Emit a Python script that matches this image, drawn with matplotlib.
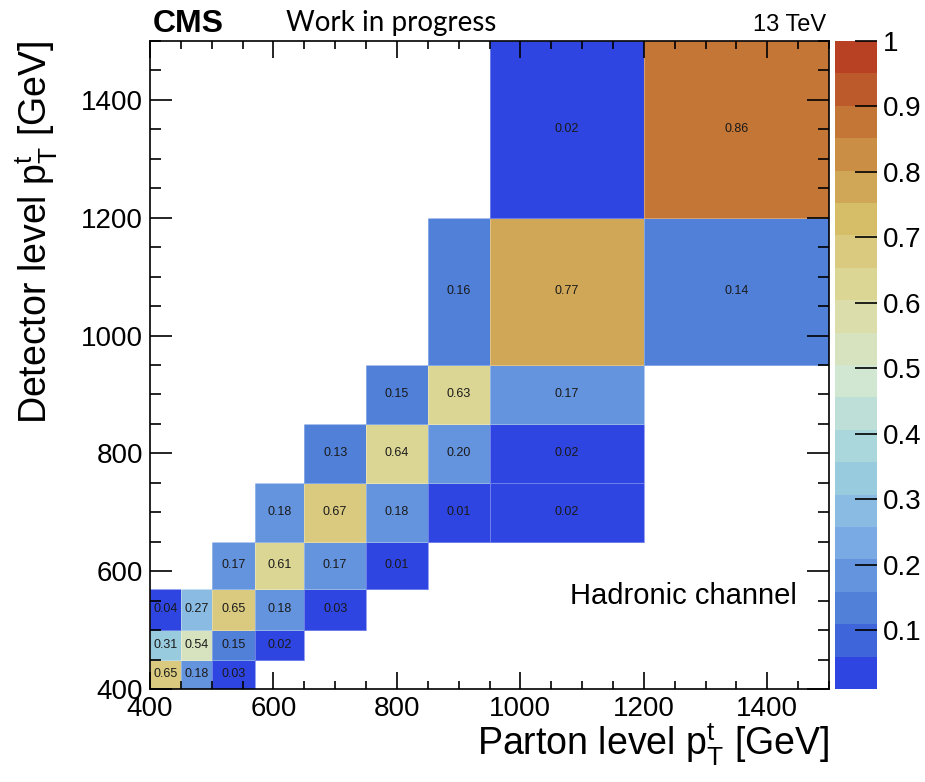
#!/usr/bin/env python3
"""
Migration matrix: parton vs detector level top pT (hadronic channel)
"""

import numpy as np
import matplotlib
matplotlib.use("Agg")
import matplotlib.pyplot as plt
from matplotlib.colors import ListedColormap, BoundaryNorm
from matplotlib.ticker import MultipleLocator

# Bin edges (GeV), same for both axes
pt_edges = [400, 450, 500, 570, 650, 750, 850, 950, 1200, 1500]

# Migration fractions: one row per detector-level bin (bottom -> top),
# one column per parton-level bin (left -> right). None = empty bin
# (a few values carry a third digit)
row_400 = [0.654, 0.18, 0.03, None, None, None, None, None, None]
row_450 = [0.31, 0.54, 0.15, 0.02, None, None, None, None, None]
row_500 = [0.04, 0.27, 0.654, 0.18, 0.03, None, None, None, None]
row_570 = [None, None, 0.17, 0.61, 0.17, 0.01, None, None, None]
row_650 = [None, None, None, 0.18, 0.67, 0.18, 0.01, 0.02, None]
row_750 = [None, None, None, None, 0.13, 0.64, 0.20, 0.02, None]
row_850 = [None, None, None, None, None, 0.15, 0.63, 0.17, None]
row_950 = [None, None, None, None, None, None, 0.157, 0.77, 0.14]
row_1200 = [None, None, None, None, None, None, None, 0.02, 0.86]

# z range of the palette (histogram minimum .. 1)
z_min, z_max = 0.01, 1.0
cbar_ticks = [0.1, 0.2, 0.3, 0.4, 0.5, 0.6, 0.7, 0.8, 0.9, 1.0]
cbar_labels = ["0.1", "0.2", "0.3", "0.4", "0.5", "0.6", "0.7", "0.8", "0.9", "1"]

# ROOT kLightTemperature palette stops
stops = np.linspace(0, 1, 9)
red = np.array([31, 71, 123, 160, 210, 222, 214, 199, 183]) / 255.
green = np.array([40, 117, 171, 211, 231, 220, 190, 132, 65]) / 255.
blue = np.array([234, 214, 228, 222, 210, 160, 105, 60, 34]) / 255.

n_levels = 20


def root_palette():
    # 255 colour gradient, then pick one colour per contour level like ROOT
    grid = np.linspace(0, 1, 255)
    pal = np.stack([np.interp(grid, stops, red),
                    np.interp(grid, stops, green),
                    np.interp(grid, stops, blue)], axis=1)
    cols = []
    for k in range(n_levels):
        idx = min(int((k + 0.99) * 255 / n_levels), 254)
        cols.append(pal[idx])
    return ListedColormap(cols)


plt.rcParams['font.family'] = ['Liberation Sans', 'DejaVu Sans']
plt.rcParams['mathtext.default'] = 'regular'

fig = plt.figure(figsize=(9.25, 7.82), dpi=100)
W, H = 925, 782
ax = fig.add_axes([150 / W, 1 - 689 / H, 679 / W, 648 / H])

rows = [row_400, row_450, row_500, row_570, row_650, row_750, row_850, row_950, row_1200]
z = np.array([[np.nan if v is None else v for v in r] for r in rows])
zm = np.ma.masked_invalid(z)

cmap = root_palette()
norm = BoundaryNorm(np.linspace(z_min, z_max, n_levels + 1), cmap.N)
mesh = ax.pcolormesh(pt_edges, pt_edges, zm, cmap=cmap, norm=norm,
                     edgecolors=(1, 1, 1, 0.3), linewidth=0.6)

centers = [(a + b) / 2 for a, b in zip(pt_edges[:-1], pt_edges[1:])]
for j, r in enumerate(rows):
    for i, v in enumerate(r):
        if v is None:
            continue
        ax.text(centers[i], centers[j], f"{v:.2f}", ha='center', va='center',
                fontsize=9, color='#1a1a1a')

ax.set_xlim(400, 1500)
ax.set_ylim(400, 1500)
ax.xaxis.set_major_locator(MultipleLocator(200))
ax.xaxis.set_minor_locator(MultipleLocator(50))
ax.yaxis.set_major_locator(MultipleLocator(200))
ax.yaxis.set_minor_locator(MultipleLocator(50))
ax.tick_params(which='both', direction='in', top=True, right=True, width=1.2)
ax.tick_params(axis='x', which='major', length=12, labelsize=20, pad=5)
ax.tick_params(axis='x', which='minor', length=6)
ax.tick_params(axis='y', which='major', length=16, labelsize=20, pad=5)
ax.tick_params(axis='y', which='minor', length=8)
for s in ax.spines.values():
    s.set_linewidth(1.2)

# palette axis
cax = fig.add_axes([835 / W, 1 - 689 / H, 42 / W, 648 / H])
cb = fig.colorbar(mesh, cax=cax, ticks=cbar_ticks)
cb.ax.set_yticklabels(cbar_labels)
cb.ax.tick_params(direction='in', length=16, width=1.2, labelsize=20, pad=4)
cb.outline.set_visible(False)
cb.ax.minorticks_off()

# labels
fig.text(829 / W, 1 - 755 / H, r"Parton level $p_{T}^{t}$ [GeV]", ha='right',
         va='baseline', fontsize=27)
fig.text(36 / W, 1 - 40 / H, r"Detector level $p_{T}^{t}$ [GeV]", ha='center',
         va='top', rotation=90, fontsize=27)

fig.text(153 / W, 1 - 32 / H, "CMS", fontsize=23, fontweight='bold',
         ha='left', va='baseline')
fig.text(286 / W, 1 - 31 / H, "Work in progress", fontsize=20,
         family=['Lato', 'DejaVu Sans'], ha='left', va='baseline')
fig.text(826 / W, 1 - 31 / H, "13 TeV", fontsize=17, ha='right', va='baseline')
fig.text(570 / W, 1 - 604 / H, "Hadronic channel", fontsize=21, ha='left',
         va='baseline')

fig.savefig("out.png", dpi=100)
